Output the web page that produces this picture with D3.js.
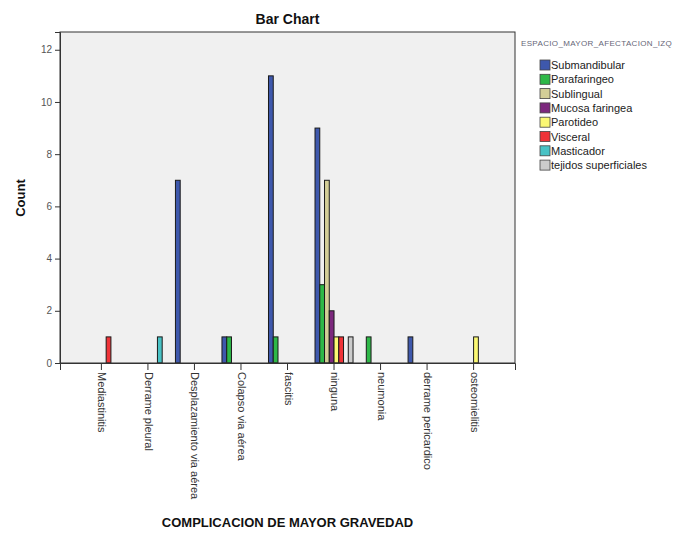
<!DOCTYPE html>
<html>
<head>
<meta charset="utf-8">
<script src="https://cdn.jsdelivr.net/npm/d3@7"></script>
<style>
  html, body { margin: 0; padding: 0; background: #ffffff; }
  svg { display: block; font-family: "Liberation Sans", Arial, sans-serif; }
</style>
</head>
<body>
<svg id="chart" width="679" height="535"></svg>
<script>
// Complications (x categories)
const categories = [
  "Mediastinitis", "Derrame pleural", "Desplazamiento via aérea",
  "Colapso via aérea", "fascitis", "ninguna", "neumonia",
  "derrame pericardico", "osteomielitis"
];

// Space of greatest involvement (cluster series)
const seriesNames = [
  "Submandibular", "Parafaringeo", "Sublingual", "Mucosa faringea",
  "Parotideo", "Visceral", "Masticador", "tejidos superficiales"
];

// Counts per series, in category order
const submandibular = [0, 0, 7, 1, 11, 9, 0, 1, 0];
const parafaringeo  = [0, 0, 0, 1, 1, 3, 1, 0, 0];
const sublingual    = [0, 0, 0, 0, 0, 7, 0, 0, 0];
const mucosa        = [0, 0, 0, 0, 0, 2, 0, 0, 0];
const parotideo     = [0, 0, 0, 0, 0, 1, 0, 0, 1];
const visceral      = [1, 0, 0, 0, 0, 1, 0, 0, 0];
const masticador    = [0, 1, 0, 0, 0, 0, 0, 0, 0];
const tejidos       = [0, 0, 0, 0, 0, 1, 0, 0, 0];

const yTicks = [0, 2, 4, 6, 8, 10, 12];

const seriesValues = [submandibular, parafaringeo, sublingual, mucosa,
                      parotideo, visceral, masticador, tejidos];
const colors = ["#3E58AC", "#2EB848", "#D3CE97", "#7C287D",
                "#FBF873", "#EF3338", "#48C2C5", "#CCCCCC"];

const svg = d3.select("#chart");

const plot = { left: 60, right: 515, top: 32, bottom: 363 };

const x = d3.scaleBand()
  .domain(categories)
  .range([plot.left, plot.right])
  .paddingInner(0)
  .paddingOuter(0.39);

const xSub = d3.scaleBand()
  .domain(seriesNames)
  .range([0, x.bandwidth()])
  .paddingInner(0)
  .paddingOuter(0.895);

const y = d3.scaleLinear()
  .domain([0, 12.68])
  .range([plot.bottom, plot.top]);

const color = d3.scaleOrdinal().domain(seriesNames).range(colors);

// plot background
svg.append("rect")
  .attr("x", plot.left).attr("y", plot.top)
  .attr("width", plot.right - plot.left)
  .attr("height", plot.bottom - plot.top)
  .attr("fill", "#F0F0F0");

// bars
const rows = [];
seriesNames.forEach((s, si) => {
  categories.forEach((c, ci) => {
    const v = seriesValues[si][ci];
    if (v > 0) rows.push({ series: s, category: c, value: v });
  });
});

svg.append("g").selectAll("rect")
  .data(rows)
  .join("rect")
  .attr("x", d => x(d.category) + xSub(d.series))
  .attr("y", d => y(d.value))
  .attr("width", xSub.bandwidth())
  .attr("height", d => y(0) - y(d.value))
  .attr("fill", d => color(d.series))
  .attr("stroke", "#1a1a1a")
  .attr("stroke-width", 1);

// frame
svg.append("rect")
  .attr("x", plot.left).attr("y", plot.top)
  .attr("width", plot.right - plot.left)
  .attr("height", plot.bottom - plot.top)
  .attr("fill", "none")
  .attr("stroke", "#333")
  .attr("stroke-width", 1);

// y axis
const yAxis = svg.append("g")
  .attr("transform", `translate(${plot.left},0)`)
  .call(d3.axisLeft(y).tickValues(yTicks).tickSize(5).tickPadding(3).tickFormat(d3.format("d")));
yAxis.select(".domain").attr("stroke", "#333");
yAxis.selectAll(".tick line").attr("stroke", "#333");
yAxis.selectAll(".tick text")
  .attr("font-family", "Liberation Sans, Arial, sans-serif")
  .attr("font-size", 10)
  .attr("fill", "#555");

// x axis
const xAxis = svg.append("g")
  .attr("transform", `translate(0,${plot.bottom})`)
  .call(d3.axisBottom(x).tickSize(7).tickPadding(2));
xAxis.select(".domain").attr("stroke", "#333");
xAxis.selectAll(".tick line").attr("stroke", "#333");
xAxis.selectAll(".tick text")
  .attr("font-family", "Liberation Sans, Arial, sans-serif")
  .attr("font-size", 11)
  .attr("fill", "#333")
  .attr("text-anchor", "start")
  .attr("dy", null)
  .attr("dominant-baseline", "central")
  .attr("transform", "translate(1,2) rotate(90)")
  .attr("x", 7)
  .attr("y", 0);

// title
svg.append("text")
  .attr("x", (plot.left + plot.right) / 2)
  .attr("y", 24)
  .attr("text-anchor", "middle")
  .attr("font-size", 14)
  .attr("font-weight", "bold")
  .attr("fill", "#111")
  .text("Bar Chart");

// axis titles
svg.append("text")
  .attr("transform", `translate(25,198) rotate(-90)`)
  .attr("text-anchor", "middle")
  .attr("font-size", 13)
  .attr("font-weight", "bold")
  .attr("fill", "#111")
  .text("Count");

svg.append("text")
  .attr("x", (plot.left + plot.right) / 2)
  .attr("y", 527)
  .attr("text-anchor", "middle")
  .attr("font-size", 13)
  .attr("font-weight", "bold")
  .attr("fill", "#111")
  .text("COMPLICACION DE MAYOR GRAVEDAD");

// legend
const legend = svg.append("g").attr("transform", "translate(521,0)");
legend.append("text")
  .attr("x", 0).attr("y", 46)
  .attr("font-size", 8)
  .attr("letter-spacing", 0.35)
  .attr("fill", "#667")
  .text("ESPACIO_MAYOR_AFECTACION_IZQ");

const items = legend.selectAll("g.item")
  .data(seriesNames)
  .join("g")
  .attr("class", "item")
  .attr("transform", (d, i) => `translate(0,${65 + i * 14.3})`);
items.append("rect")
  .attr("x", 19).attr("y", -5)
  .attr("width", 10).attr("height", 10)
  .attr("fill", d => color(d))
  .attr("stroke", "#444")
  .attr("stroke-width", 0.8);
items.append("text")
  .attr("x", 30).attr("y", 0)
  .attr("dominant-baseline", "central")
  .attr("font-size", 11)
  .attr("fill", "#222")
  .text(d => d);
</script>
</body>
</html>
